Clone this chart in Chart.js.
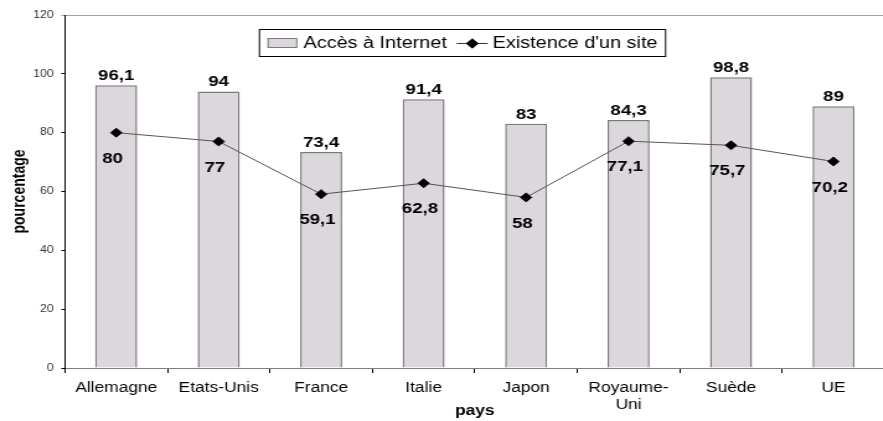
<!DOCTYPE html>
<html>
<head>
<meta charset="utf-8">
<script src="https://cdn.jsdelivr.net/npm/chart.js@4.4.1/dist/chart.umd.min.js"></script>
<style>
  html, body { margin: 0; padding: 0; background: #fff; overflow: hidden; }
  /* the original picture is stretched sideways, so the chart is too */
  #wrap { width: 719px; height: 421px; transform: scaleX(1.24); transform-origin: 0 0; }
</style>
</head>
<body>
<div id="wrap"><canvas id="myChart"></canvas></div>
<script>
const pays = ['Allemagne', 'Etats-Unis', 'France', 'Italie', 'Japon', ['Royaume-', 'Uni'], 'Suède', 'UE'];
const accesInternet = [96.1, 94, 73.4, 91.4, 83, 84.3, 98.8, 89];
const existenceSite = [80, 77, 59.1, 62.8, 58, 77.1, 75.7, 70.2];
const yTicks = [0, 20, 40, 60, 80, 100, 120];

const legendLabels = ['Accès à Internet', "Existence d'un site"];

Chart.defaults.font.family = '"Liberation Sans", Arial, sans-serif';
Chart.defaults.color = '#000';

// format numbers with a French decimal comma
function fr(v) {
    return String(v).replace('.', ',');
}

// value labels above the bars and under the points
const valueLabels = {
    id: 'valueLabels',
    afterDatasetsDraw(chart) {
        const ctx = chart.ctx;
        ctx.save();
        ctx.font = 'bold 15px "Liberation Sans", Arial';
        ctx.fillStyle = '#000';
        ctx.textAlign = 'center';

        const bars = chart.getDatasetMeta(0).data;
        ctx.textBaseline = 'alphabetic';
        bars.forEach((bar, i) => {
            ctx.fillText(fr(accesInternet[i]), bar.x, bar.y - 5);
        });

        const points = chart.getDatasetMeta(1).data;
        ctx.textBaseline = 'middle';
        points.forEach((pt, i) => {
            ctx.fillText(fr(existenceSite[i]), pt.x - 3, pt.y + 26);
        });
        ctx.restore();
    }
};

// boxed legend inside the plot area
const boxedLegend = {
    id: 'boxedLegend',
    afterDraw(chart) {
        const ctx = chart.ctx;
        ctx.save();
        ctx.font = '16px "Liberation Sans", Arial';
        const w1 = ctx.measureText(legendLabels[0]).width;
        const w2 = ctx.measureText(legendLabels[1]).width;
        const boxW = 7 + 24 + 5 + w1 + 8 + 25 + 4 + w2 + 7;
        const left = 373 - boxW / 2;
        const top = 29, h = 28, mid = top + h / 2;

        ctx.fillStyle = '#fff';
        ctx.fillRect(left, top, boxW, h);
        ctx.strokeStyle = '#000';
        ctx.lineWidth = 1;
        ctx.strokeRect(left + 0.5, top + 0.5, boxW - 1, h - 1);

        let x = left + 7;
        ctx.fillStyle = '#dcd7dc';
        ctx.fillRect(x, mid - 5, 24, 10);
        ctx.strokeStyle = '#7a7a7a';
        ctx.strokeRect(x + 0.5, mid - 4.5, 23, 9);
        x += 29;

        ctx.fillStyle = '#000';
        ctx.textBaseline = 'middle';
        ctx.fillText(legendLabels[0], x, mid + 1);
        x += w1 + 8;

        ctx.strokeStyle = '#333';
        ctx.beginPath();
        ctx.moveTo(x, mid + 0.5);
        ctx.lineTo(x + 25, mid + 0.5);
        ctx.stroke();
        Chart.helpers.drawPoint(ctx, { pointStyle: 'rectRot', radius: 5, borderWidth: 0 }, x + 12.5, mid + 0.5);
        ctx.fill();
        x += 29;

        ctx.fillStyle = '#000';
        ctx.fillText(legendLabels[1], x, mid + 1);
        ctx.restore();
    }
};

const ctx = document.getElementById('myChart');

new Chart(ctx, {
    data: {
        labels: pays,
        datasets: [{
            type: 'bar',
            label: legendLabels[0],
            data: accesInternet,
            backgroundColor: '#dcd7dc',
            borderColor: '#7a7a7a',
            borderWidth: 1.5,
            barPercentage: 0.41,
            categoryPercentage: 1,
            order: 2
        }, {
            type: 'line',
            label: legendLabels[1],
            data: existenceSite,
            borderColor: '#555',
            borderWidth: 1,
            pointStyle: 'rectRot',
            pointRadius: 4.5,
            pointBackgroundColor: '#000',
            pointBorderColor: '#000',
            pointBorderWidth: 1,
            order: 1
        }]
    },
    options: {
        responsive: true,
        maintainAspectRatio: false,
        animation: false,
        layout: { padding: { top: 15, left: 0, right: 0, bottom: 0 } },
        plugins: {
            legend: { display: false },
            tooltip: { enabled: false }
        },
        scales: {
            x: {
                offset: true,
                grid: {
                    offset: true,
                    drawOnChartArea: false,
                    tickLength: 5,
                    tickColor: '#000'
                },
                border: { color: '#808080', width: 1 },
                ticks: {
                    padding: 7,
                    maxRotation: 0,
                    autoSkip: false,
                    font: { size: 14, lineHeight: 1.2 },
                    color: '#000'
                },
                title: {
                    display: true,
                    text: 'pays',
                    font: { size: 14, weight: 'bold' },
                    padding: { top: 0, bottom: 1 }
                },
                afterFit(scale) { scale.height = 53; }
            },
            y: {
                min: 0,
                max: 120,
                afterBuildTicks(scale) {
                    scale.ticks = yTicks.map(v => ({ value: v }));
                },
                grid: {
                    color: c => (c.tick && c.tick.value === 120 ? '#a0a0a0' : 'rgba(0,0,0,0)'),
                    tickColor: c => (c.tick && c.tick.value === 120 ? '#a0a0a0' : '#000'),
                    tickLength: 3
                },
                border: { color: '#000', width: 1 },
                ticks: {
                    padding: 6,
                    font: { size: 10 },
                    color: '#333'
                },
                title: {
                    display: true,
                    text: 'pourcentage',
                    font: { size: 14, weight: 'bold' },
                    padding: { top: 8, bottom: 0 }
                },
                afterFit(scale) { scale.width = 52.4; }
            }
        }
    },
    plugins: [valueLabels, boxedLegend]
});
</script>
</body>
</html>
